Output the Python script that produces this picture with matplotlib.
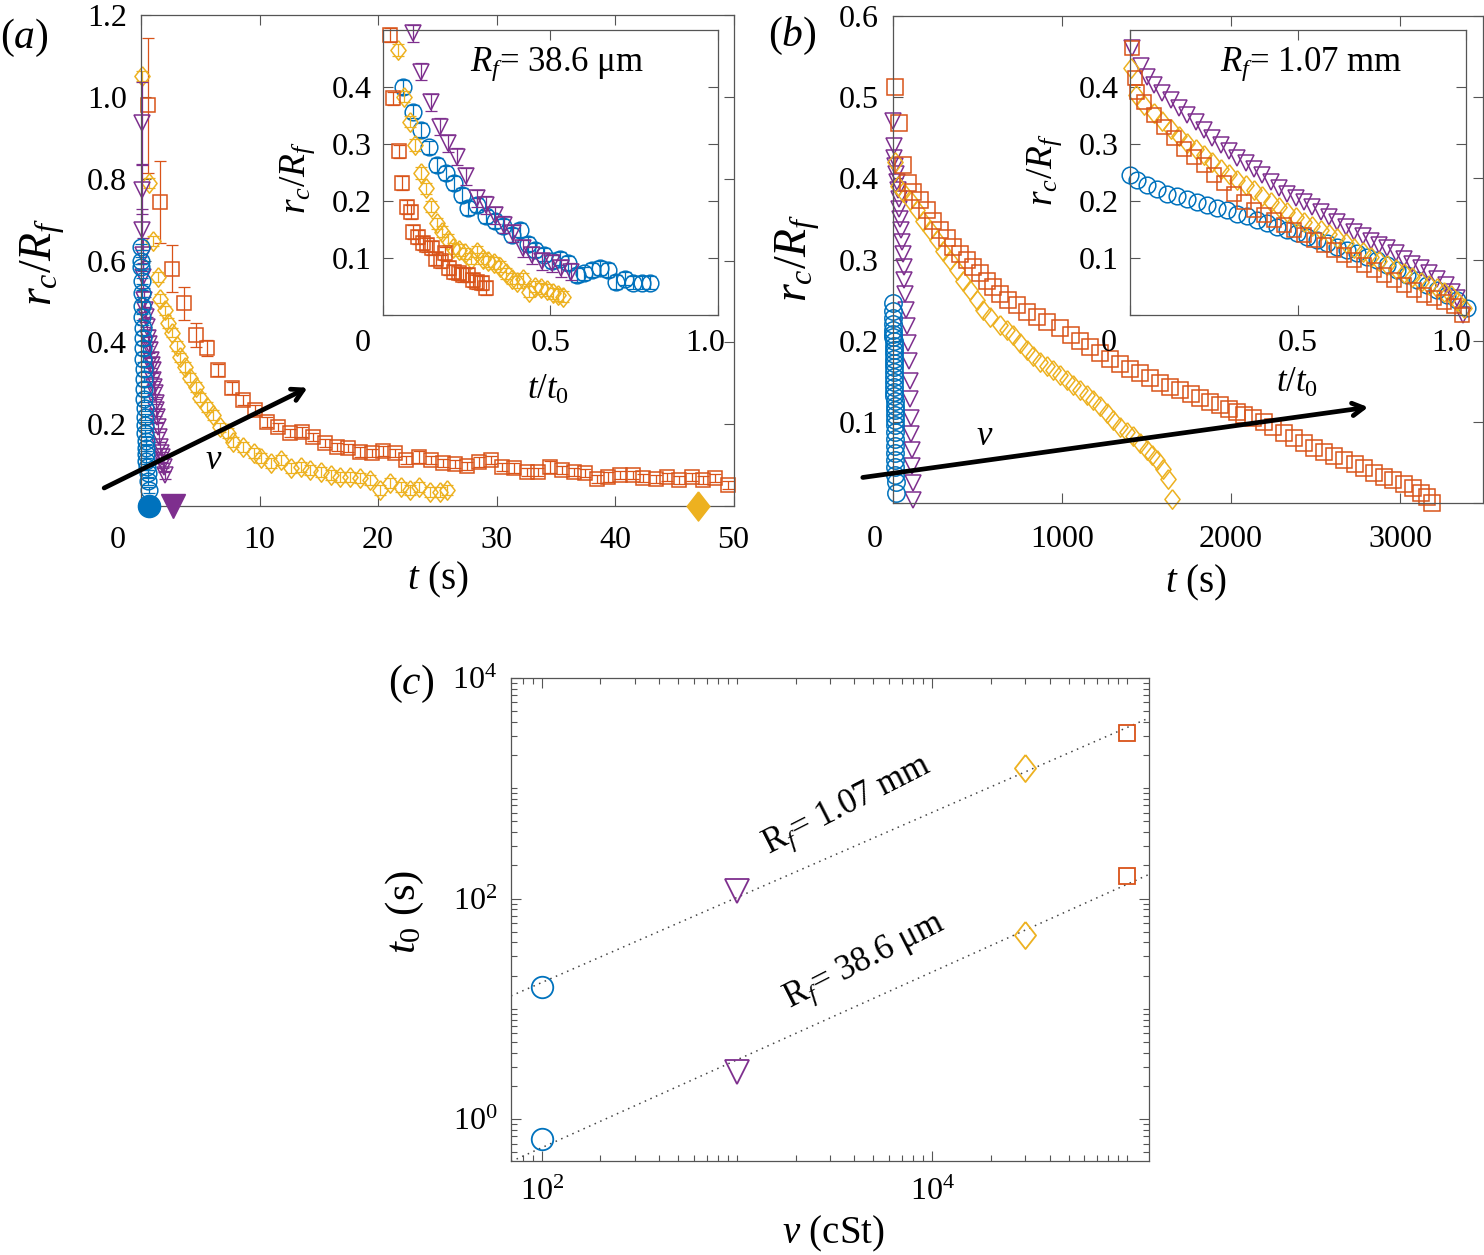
import numpy as np
import matplotlib
matplotlib.use("Agg")
import matplotlib.pyplot as plt
from matplotlib.ticker import LogLocator, NullFormatter

plt.rcParams['font.family'] = ['Liberation Serif', 'DejaVu Serif']
plt.rcParams['mathtext.fontset'] = 'custom'
plt.rcParams['mathtext.rm'] = 'Liberation Serif'
plt.rcParams['mathtext.it'] = 'Liberation Serif:italic'
plt.rcParams['mathtext.bf'] = 'Liberation Serif:bold'

# MATLAB default colours
blue = '#0072BD'
orange = '#D95319'
yellow = '#EDB120'
purple = '#7E2F8E'

# ---------------- data ----------------
# (c) break-up time vs viscosity
nu = [100, 1000, 30000, 100000]
t0_large = [15.7, 116, 1535, 3190]   # R_f = 1.07 mm
t0_small = [0.66, 2.7, 47, 159]      # R_f = 38.6 um

# (a) main, R_f = 38.6 um
ta_blue = [0.0, 0.02, 0.04, 0.06, 0.08, 0.10, 0.12, 0.14, 0.16, 0.18, 0.20, 0.22, 0.24, 0.26,
           0.28, 0.30, 0.32, 0.34, 0.36, 0.38, 0.40, 0.43, 0.46, 0.50, 0.55, 0.60, 0.65]
ya_blue = [0.633, 0.60, 0.584, 0.55, 0.52, 0.49, 0.462, 0.435, 0.411, 0.385, 0.36, 0.335, 0.31, 0.285,
           0.262, 0.24, 0.218, 0.198, 0.178, 0.16, 0.142, 0.126, 0.11, 0.095, 0.08, 0.06, 0.039]

ta_purple = [0.05, 0.08, 0.10, 0.15, 0.17, 0.25, 0.33, 0.40, 0.50, 0.59, 0.68, 0.76, 0.85, 0.93, 1.00,
             1.05, 1.12, 1.18, 1.25, 1.30, 1.35, 1.43, 1.52, 1.60, 1.70, 1.77, 1.86, 1.95, 2.03]
ya_purple = [0.936, 0.773, 0.675, 0.614, 0.56, 0.504, 0.48, 0.462, 0.438, 0.411, 0.395, 0.381, 0.357,
             0.345, 0.333, 0.308, 0.29, 0.276, 0.252, 0.235, 0.218, 0.193, 0.169, 0.144, 0.13, 0.12,
             0.105, 0.095, 0.076]
ea_purple = [0.10, 0.06, 0.05, 0.04, 0.035, 0.03, 0.03, 0.025, 0.025, 0.02, 0.02, 0.02, 0.02, 0.018,
             0.018, 0.016, 0.016, 0.015, 0.015, 0.014, 0.014, 0.013, 0.013, 0.012, 0.012, 0.012, 0.011,
             0.011, 0.01]

ta_yellow = [0.1, 0.7, 1.0, 1.4, 1.6, 2.0, 2.3, 2.6, 3.0, 3.3, 3.7, 4.1, 4.6, 5.0, 5.6, 6.1, 6.7, 7.3,
             7.8, 8.6, 9.5, 10.1, 11.0, 11.8, 12.7, 13.5, 14.3, 15.2, 16.0, 16.8, 17.6, 18.5, 19.3,
             20.2, 21.0, 21.9, 22.7, 23.5, 24.4, 25.2, 25.8]
ya_yellow = [1.05, 0.79, 0.648, 0.56, 0.507, 0.478, 0.448, 0.424, 0.392, 0.363, 0.339, 0.314, 0.29,
             0.265, 0.241, 0.222, 0.192, 0.178, 0.156, 0.144, 0.129, 0.117, 0.105, 0.112, 0.092, 0.095,
             0.087, 0.083, 0.075, 0.07, 0.07, 0.068, 0.063, 0.039, 0.056, 0.046, 0.039, 0.046, 0.034,
             0.034, 0.039]

ta_orange = [0.6, 1.6, 2.6, 3.6, 4.6, 5.6, 6.5, 7.7, 8.6, 9.6, 10.6, 11.6, 12.6, 13.6, 14.5, 15.5,
             16.5, 17.5, 18.5, 19.5, 20.4, 21.4, 22.4, 23.5, 24.5, 25.5, 26.5, 27.5, 28.5, 29.5, 30.5,
             31.5, 32.6, 33.5, 34.5, 35.5, 36.5, 37.5, 38.5, 39.4, 40.4, 41.5, 42.4, 43.5, 44.4, 45.4,
             46.5, 47.4, 48.4, 49.5]
ya_orange = [0.98, 0.742, 0.58, 0.495, 0.418, 0.386, 0.332, 0.288, 0.259, 0.235, 0.206, 0.193, 0.179,
             0.181, 0.169, 0.154, 0.145, 0.142, 0.132, 0.13, 0.134, 0.13, 0.113, 0.12, 0.113, 0.106,
             0.103, 0.098, 0.108, 0.113, 0.096, 0.093, 0.084, 0.084, 0.096, 0.088, 0.084, 0.081, 0.066,
             0.071, 0.076, 0.076, 0.069, 0.066, 0.071, 0.064, 0.071, 0.064, 0.069, 0.052]
ea_orange = [0.165, 0.10, 0.058, 0.04, 0.03, 0.02, 0.015, 0.015, 0.012, 0.012, 0.012, 0.01, 0.01, 0.012,
             0.01, 0.01, 0.01, 0.01, 0.012, 0.01, 0.012, 0.01, 0.01, 0.015, 0.01, 0.01, 0.01, 0.01,
             0.012, 0.01, 0.01, 0.012, 0.01, 0.01, 0.015, 0.01, 0.01, 0.01, 0.01, 0.012, 0.01, 0.01,
             0.01, 0.01, 0.01, 0.01, 0.01, 0.01, 0.01, 0.01]

# (a) inset, normalised time
xa_blue = [0.059, 0.09, 0.113, 0.137, 0.162, 0.187, 0.213, 0.237, 0.255, 0.282, 0.308, 0.334, 0.359,
           0.384, 0.409, 0.434, 0.454, 0.481, 0.505, 0.528, 0.553, 0.578, 0.601, 0.625, 0.648, 0.673,
           0.697, 0.722, 0.747, 0.772, 0.797]
yia_blue = [0.40, 0.357, 0.325, 0.294, 0.263, 0.249, 0.231, 0.211, 0.188, 0.193, 0.173, 0.165, 0.156,
            0.14, 0.149, 0.124, 0.114, 0.106, 0.094, 0.099, 0.091, 0.07, 0.073, 0.079, 0.082, 0.079,
            0.058, 0.064, 0.057, 0.057, 0.057]
xa_purple = [0.089, 0.113, 0.142, 0.170, 0.195, 0.220, 0.248, 0.282, 0.307, 0.334, 0.362, 0.389, 0.419,
             0.446, 0.474, 0.503, 0.531, 0.560]
yia_purple = [0.494, 0.427, 0.373, 0.330, 0.301, 0.278, 0.243, 0.205, 0.193, 0.175, 0.158, 0.143, 0.117,
              0.105, 0.094, 0.091, 0.082, 0.076]
xa_orange = [0.021, 0.031, 0.049, 0.056, 0.071, 0.083, 0.091, 0.105, 0.118, 0.130, 0.145, 0.158, 0.172,
             0.185, 0.198, 0.212, 0.226, 0.240, 0.255, 0.268, 0.282, 0.295, 0.307]
yia_orange = [0.491, 0.38, 0.287, 0.231, 0.19, 0.181, 0.146, 0.137, 0.126, 0.123, 0.117, 0.099, 0.094,
              0.108, 0.082, 0.076, 0.073, 0.070, 0.070, 0.061, 0.058, 0.056, 0.047]
xa_yellow = [0.046, 0.063, 0.081, 0.096, 0.112, 0.128, 0.143, 0.160, 0.177, 0.193, 0.210, 0.227, 0.245,
             0.262, 0.280, 0.298, 0.314, 0.331, 0.349, 0.366, 0.384, 0.401, 0.419, 0.436, 0.454, 0.472,
             0.489, 0.506, 0.523, 0.538]
yia_yellow = [0.465, 0.383, 0.339, 0.298, 0.249, 0.222, 0.19, 0.161, 0.146, 0.132, 0.117, 0.114, 0.108,
              0.099, 0.111, 0.099, 0.094, 0.091, 0.085, 0.073, 0.064, 0.058, 0.064, 0.041, 0.05, 0.047,
              0.044, 0.038, 0.035, 0.032]

# (b) main, R_f = 1.07 mm
tb_blue = [0.0, 0.45, 0.9, 1.35, 1.8, 2.25, 2.7, 3.15, 3.6, 4.05, 4.5, 4.95, 5.4, 5.85, 6.3, 6.75, 7.2,
           7.65, 8.1, 8.55, 9.0, 9.45, 9.9, 10.35, 10.8, 11.25, 11.7, 12.15, 12.6, 13.05, 13.5, 13.95,
           14.4, 14.85, 15.1]
yb_blue = [0.246, 0.237, 0.228, 0.221, 0.213, 0.208, 0.204, 0.199, 0.193, 0.188, 0.184, 0.178, 0.173,
           0.167, 0.161, 0.155, 0.149, 0.143, 0.137, 0.132, 0.126, 0.12, 0.114, 0.108, 0.102, 0.096,
           0.088, 0.079, 0.07, 0.061, 0.053, 0.044, 0.035, 0.026, 0.012]
tb_purple = [0, 3, 8, 13, 18, 23, 28, 33, 38, 43, 48, 53, 58, 63, 68, 73, 78, 83, 88, 93, 98, 102, 106,
             109, 112, 114, 116, 118]
yb_purple = [0.471, 0.44, 0.425, 0.415, 0.405, 0.396, 0.386, 0.374, 0.362, 0.35, 0.336, 0.322, 0.307,
             0.291, 0.275, 0.257, 0.238, 0.218, 0.197, 0.175, 0.15, 0.128, 0.105, 0.085, 0.065, 0.045,
             0.025, 0.004]
tb_yellow = [12, 31, 61, 101, 140, 179, 219, 258, 298, 337, 377, 416, 456, 495, 535, 574, 633, 673, 712,
             751, 791, 830, 870, 909, 948, 988, 1027, 1067, 1107, 1146, 1185, 1225, 1264, 1303, 1343,
             1382, 1422, 1462, 1501, 1530, 1560, 1600, 1625, 1649]
yb_yellow = [0.42, 0.391, 0.383, 0.373, 0.361, 0.348, 0.336, 0.324, 0.311, 0.299, 0.287, 0.274, 0.262,
             0.25, 0.238, 0.229, 0.219, 0.213, 0.207, 0.197, 0.188, 0.181, 0.174, 0.169, 0.164, 0.158,
             0.151, 0.145, 0.139, 0.133, 0.127, 0.119, 0.111, 0.102, 0.094, 0.088, 0.082, 0.074, 0.065,
             0.059, 0.053, 0.042, 0.03, 0.005]
tb_orange = [12, 37, 57, 89, 118, 160, 199, 237, 278, 318, 356, 396, 436, 475, 515, 554, 592, 633, 681,
             732, 791, 850, 909, 988, 1050, 1107, 1166, 1225, 1285, 1343, 1403, 1462, 1520, 1580, 1640,
             1698, 1760, 1817, 1875, 1935, 1990, 2034, 2077, 2130, 2195, 2250, 2314, 2370, 2432, 2490,
             2550, 2610, 2669, 2730, 2787, 2845, 2905, 2960, 3024, 3075, 3122, 3160, 3189]
yb_orange = [0.512, 0.468, 0.416, 0.394, 0.383, 0.373, 0.361, 0.348, 0.336, 0.326, 0.315, 0.307, 0.299,
             0.291, 0.283, 0.274, 0.266, 0.257, 0.25, 0.244, 0.235, 0.229, 0.223, 0.215, 0.207, 0.199,
             0.192, 0.185, 0.178, 0.171, 0.165, 0.16, 0.154, 0.148, 0.143, 0.139, 0.134, 0.129, 0.125,
             0.121, 0.116, 0.112, 0.109, 0.105, 0.1, 0.094, 0.086, 0.08, 0.074, 0.068, 0.063, 0.058,
             0.053, 0.048, 0.043, 0.037, 0.032, 0.028, 0.024, 0.018, 0.012, 0.007, 0.0]

# (b) inset, normalised time
xb_blue = [0.0, 0.022, 0.052, 0.081, 0.111, 0.141, 0.17, 0.2, 0.23, 0.26, 0.29, 0.319, 0.349, 0.379,
           0.409, 0.438, 0.468, 0.498, 0.528, 0.558, 0.587, 0.617, 0.647, 0.677, 0.706, 0.736, 0.766,
           0.796, 0.825, 0.855, 0.885, 0.915, 0.944, 0.974, 1.004]
yib_blue = [0.246, 0.237, 0.228, 0.221, 0.213, 0.208, 0.204, 0.199, 0.193, 0.188, 0.184, 0.178, 0.173,
            0.167, 0.161, 0.155, 0.149, 0.143, 0.137, 0.132, 0.126, 0.12, 0.114, 0.108, 0.102, 0.096,
            0.088, 0.079, 0.07, 0.061, 0.053, 0.044, 0.035, 0.026, 0.012]
xb_purple = [0.007, 0.032, 0.052, 0.071, 0.096, 0.121, 0.146, 0.171, 0.196, 0.22, 0.245, 0.27, 0.295,
             0.319, 0.344, 0.369, 0.394, 0.419, 0.443, 0.468, 0.493, 0.518, 0.543, 0.567, 0.592, 0.617,
             0.642, 0.667, 0.692, 0.716, 0.741, 0.766, 0.791, 0.815, 0.84, 0.865, 0.89, 0.915, 0.94,
             0.958, 0.974, 0.99]
yib_purple = [0.468, 0.436, 0.418, 0.404, 0.39, 0.377, 0.364, 0.351, 0.338, 0.325, 0.311, 0.298, 0.287,
              0.275, 0.266, 0.257, 0.245, 0.234, 0.223, 0.213, 0.206, 0.199, 0.19, 0.181, 0.172, 0.164,
              0.155, 0.146, 0.138, 0.129, 0.123, 0.117, 0.108, 0.099, 0.09, 0.082, 0.073, 0.064, 0.052,
              0.04, 0.029, 0.0]
xb_yellow = [0.002, 0.017, 0.042, 0.071, 0.096, 0.121, 0.146, 0.171, 0.196, 0.22, 0.245, 0.27, 0.295,
             0.319, 0.344, 0.369, 0.394, 0.419, 0.443, 0.468, 0.493, 0.518, 0.543, 0.567, 0.592, 0.617,
             0.642, 0.667, 0.692, 0.716, 0.741, 0.766, 0.791, 0.815, 0.84, 0.865, 0.89, 0.915, 0.935,
             0.954, 0.974, 0.994]
yib_yellow = [0.433, 0.386, 0.368, 0.354, 0.34, 0.327, 0.314, 0.301, 0.291, 0.281, 0.269, 0.257, 0.247,
              0.237, 0.228, 0.219, 0.209, 0.199, 0.19, 0.181, 0.172, 0.164, 0.156, 0.149, 0.142, 0.135,
              0.126, 0.117, 0.11, 0.102, 0.095, 0.088, 0.081, 0.073, 0.066, 0.058, 0.052, 0.047, 0.041,
              0.035, 0.025, 0.012]
xb_orange = [0.007, 0.014, 0.022, 0.042, 0.071, 0.101, 0.131, 0.161, 0.19, 0.22, 0.25, 0.28, 0.31, 0.339,
             0.369, 0.399, 0.429, 0.458, 0.488, 0.518, 0.548, 0.577, 0.607, 0.637, 0.667, 0.696, 0.726,
             0.756, 0.786, 0.815, 0.845, 0.875, 0.905, 0.935, 0.964, 0.989]
yib_orange = [0.468, 0.415, 0.392, 0.374, 0.351, 0.33, 0.31, 0.292, 0.278, 0.263, 0.246, 0.231, 0.213,
              0.199, 0.184, 0.175, 0.167, 0.158, 0.149, 0.14, 0.132, 0.123, 0.114, 0.105, 0.096, 0.088,
              0.079, 0.07, 0.061, 0.053, 0.044, 0.035, 0.029, 0.023, 0.015, 0.0]

# ---------------- figure ----------------
W, H = 1484, 1255
fig = plt.figure(figsize=(W / 100, H / 100), dpi=100)

FS_TICK = 23
GRAY = '#555555'
# MATLAB style diamond: a bit taller than wide
DIAM = [(0, 1), (0.78, 0), (0, -1), (-0.78, 0), (0, 1)]


def px_axes(left, top, right, bottom):
    # axes from pixel box of the reference
    return fig.add_axes([left / W, 1 - bottom / H, (right - left) / W, (bottom - top) / H])


def style(ax, xpad, ypad):
    ax.tick_params(which='both', direction='in', top=True, right=True, color=GRAY,
                   labelsize=FS_TICK, width=0.8)
    ax.tick_params(which='major', length=7)
    ax.tick_params(which='minor', length=4)
    ax.tick_params(axis='x', pad=xpad)
    ax.tick_params(axis='y', pad=ypad)
    for s in ax.spines.values():
        s.set_color(GRAY)
        s.set_linewidth(0.9)


def edge_label(ax, x, s, dx, pad):
    # tick label shifted sideways, like in the original figure
    ax.annotate(s, xy=(x, 0), xycoords=('data', 'axes fraction'), xytext=(dx, -pad * 100 / 72),
                textcoords='offset pixels', ha='center', va='top', fontsize=FS_TICK,
                annotation_clip=False)


def ftext(x, y, s, **kw):
    fig.text(x / W, 1 - y / H, s, ha='center', va='center', **kw)


mk = {'blue': dict(marker='o', ms=12, color=blue),
      'purple': dict(marker='v', ms=12, color=purple),
      'yellow': dict(marker=DIAM, ms=14, color=yellow),
      'orange': dict(marker='s', ms=10.5, color=orange)}


def pts(ax, x, y, key, ms=None, mew=1.1):
    m = mk[key]
    ax.plot(x, y, ls='none', marker=m['marker'], ms=ms or m['ms'], mfc='none', mec=m['color'],
            mew=mew, clip_on=False)


def ebar(ax, x, y, e, key):
    m = mk[key]
    ax.errorbar(x, y, yerr=e, fmt='none', ecolor=m['color'], elinewidth=0.9, capsize=4,
                capthick=0.9, clip_on=False)
    pts(ax, x, y, key)


arrow_kw = dict(arrowstyle='->,head_length=0.8,head_width=0.45', lw=3.4, color='k')

# ---- (a) main ----
ax_a = px_axes(141, 15, 733.5, 506)
ebar(ax_a, ta_orange, ya_orange, ea_orange, 'orange')
ebar(ax_a, ta_yellow, ya_yellow, 0.012, 'yellow')
ebar(ax_a, ta_purple, ya_purple, ea_purple, 'purple')
ebar(ax_a, ta_blue, ya_blue, 0.008, 'blue')
# t0 of each viscosity (filled markers on the axis)
ax_a.plot(t0_small[0], 0, marker='o', color=blue, ms=16, clip_on=False, zorder=6)
ax_a.plot(t0_small[1], 0, marker='v', color=purple, ms=17, clip_on=False, zorder=6)
ax_a.plot(t0_small[2], 0, marker=DIAM, color=yellow, ms=21, clip_on=False, zorder=6)
ax_a.set_xlim(0, 50)
ax_a.set_ylim(0, 1.2)
ax_a.set_xticks([0, 10, 20, 30, 40, 50])
ax_a.set_xticklabels(['', '10', '20', '30', '40', '50'])
ax_a.set_yticks([0, 0.2, 0.4, 0.6, 0.8, 1.0, 1.2])
ax_a.set_yticklabels(['', '0.2', '0.4', '0.6', '0.8', '1.0', '1.2'])
style(ax_a, 14.5, 10)
edge_label(ax_a, 0, '0', -23, 14.5)
ax_a.annotate('', xy=(14.26, 0.292), xytext=(-3.32, 0.041), arrowprops=arrow_kw,
              annotation_clip=False)
ax_a.text(6.1, 0.112, r'$\nu$', fontsize=25, ha='center', va='center')

# ---- (a) inset ----
ax_ai = px_axes(383, 30, 718, 315)
ebar(ax_ai, xa_blue, yia_blue, 0.012, 'blue')
ebar(ax_ai, xa_purple, yia_purple, 0.015, 'purple')
ebar(ax_ai, xa_yellow, yia_yellow, 0.01, 'yellow')
ebar(ax_ai, xa_orange, yia_orange, 0.012, 'orange')
ax_ai.set_xlim(0, 1)
ax_ai.set_ylim(0, 0.5)
ax_ai.set_xticks([0, 0.5, 1.0])
ax_ai.set_xticklabels(['', '0.5', ''])
ax_ai.set_yticks([0, 0.1, 0.2, 0.3, 0.4])
ax_ai.set_yticklabels(['', '0.1', '0.2', '0.3', '0.4'])
style(ax_ai, 10, 8)
edge_label(ax_ai, 0, '0', -20, 10)
edge_label(ax_ai, 1.0, '1.0', -13, 10)
ax_ai.text(0.52, 0.88, r'$R_f$= 38.6 $\mathrm{\mu}$m', transform=ax_ai.transAxes,
           fontsize=25, ha='center', va='center')

# ---- (b) main ----
ax_b = px_axes(893, 16, 1483, 503)
pts(ax_b, tb_purple, yb_purple, 'purple')
pts(ax_b, tb_blue, yb_blue, 'blue', ms=12.5)
pts(ax_b, tb_yellow, yb_yellow, 'yellow')
pts(ax_b, tb_orange, yb_orange, 'orange', ms=11.5)
ax_b.set_xlim(0, 3490)
ax_b.set_ylim(0, 0.6)
ax_b.set_xticks([0, 1000, 2000, 3000])
ax_b.set_xticklabels(['', '1000', '2000', '3000'])
ax_b.set_yticks([0, 0.1, 0.2, 0.3, 0.4, 0.5, 0.6])
ax_b.set_yticklabels(['', '0.1', '0.2', '0.3', '0.4', '0.5', '0.6'])
style(ax_b, 15.5, 10)
edge_label(ax_b, 0, '0', -18, 15.5)
ax_b.annotate('', xy=(2827, 0.1185), xytext=(-195, 0.031), arrowprops=arrow_kw,
              annotation_clip=False)
ax_b.text(544, 0.082, r'$\nu$', fontsize=25, ha='center', va='center')

# ---- (b) inset ----
ax_bi = px_axes(1130, 30, 1466, 315)
pts(ax_bi, xb_blue, yib_blue, 'blue')
pts(ax_bi, xb_purple, yib_purple, 'purple')
pts(ax_bi, xb_yellow, yib_yellow, 'yellow')
pts(ax_bi, xb_orange, yib_orange, 'orange')
ax_bi.set_xlim(0, 1)
ax_bi.set_ylim(0, 0.5)
ax_bi.set_xticks([0, 0.5, 1.0])
ax_bi.set_xticklabels(['', '0.5', ''])
ax_bi.set_yticks([0, 0.1, 0.2, 0.3, 0.4])
ax_bi.set_yticklabels(['', '0.1', '0.2', '0.3', '0.4'])
style(ax_bi, 10, 8)
edge_label(ax_bi, 0, '0', -21, 10)
edge_label(ax_bi, 1.0, '1.0', -15, 10)
ax_bi.text(0.54, 0.88, r'$R_f$= 1.07 mm', transform=ax_bi.transAxes,
           fontsize=25, ha='center', va='center')

# ---- (c) t0 vs nu ----
ax_c = px_axes(511, 678, 1149, 1160.7)
xlo, xhi = 69.6, 1.29e5
for t0 in (t0_large, t0_small):
    k, b = np.polyfit(np.log10(nu), np.log10(t0), 1)
    xf = np.array([xlo, xhi])
    ax_c.plot(xf, 10 ** (k * np.log10(xf) + b), ls=(0, (1, 3)), color='#444444', lw=1.1)
ms_c = {'blue': 15.5, 'purple': 17, 'yellow': 19.5, 'orange': 11.5}
for i, key in enumerate(['blue', 'purple', 'yellow', 'orange']):
    for t0 in (t0_large, t0_small):
        pts(ax_c, nu[i], t0[i], key, ms=ms_c[key], mew=1.3)
ax_c.set_xscale('log')
ax_c.set_yscale('log')
ax_c.set_xlim(xlo, xhi)
ax_c.set_ylim(0.42, 1e4)
ax_c.xaxis.set_major_locator(LogLocator(base=100))
ax_c.yaxis.set_major_locator(LogLocator(base=100))
ax_c.xaxis.set_minor_locator(LogLocator(base=10, subs=np.arange(1, 10), numticks=20))
ax_c.yaxis.set_minor_locator(LogLocator(base=10, subs=np.arange(1, 10), numticks=20))
ax_c.xaxis.set_minor_formatter(NullFormatter())
ax_c.yaxis.set_minor_formatter(NullFormatter())
style(ax_c, 12, 10)

# ---- labels ----
ftext(24, 38, r'$(a)$', fontsize=30)
ftext(792, 36, r'$(b)$', fontsize=30)
ftext(411, 684, r'$(c)$', fontsize=30)
ftext(43, 262, r'$r_c/R_f$', fontsize=33, rotation=90)
ftext(798, 258, r'$r_c/R_f$', fontsize=33, rotation=90)
ftext(438, 580, r'$t$ (s)', fontsize=28)
ftext(1196, 583, r'$t$ (s)', fontsize=28)
ftext(298, 178, r'$r_c/R_f$', fontsize=27, rotation=90)
ftext(1045, 170, r'$r_c/R_f$', fontsize=27, rotation=90)
ftext(548, 390, r'$t/t_0$', fontsize=25)
ftext(1297, 383, r'$t/t_0$', fontsize=25)
ftext(405, 912, r'$t_0$ (s)', fontsize=31, rotation=90)
ftext(833, 1234, r'$\nu$ (cSt)', fontsize=28)
ftext(848, 806, r'$\mathrm{R}_f$= 1.07 mm', fontsize=25, rotation=27)
ftext(865, 962, r'$\mathrm{R}_f$= 38.6 $\mathrm{\mu}$m', fontsize=25, rotation=27)

fig.savefig('out.png', dpi=100)
